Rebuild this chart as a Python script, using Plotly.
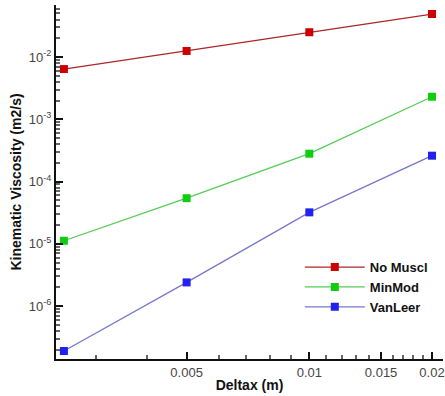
import plotly.graph_objects as go

deltax = [0.0025, 0.005, 0.01, 0.02]
no_muscl = [6.4e-3, 1.25e-2, 2.5e-2, 4.9e-2]
minmod = [1.12e-5, 5.4e-5, 2.8e-4, 2.3e-3]
vanleer = [1.9e-7, 2.4e-6, 3.2e-5, 2.6e-4]
names = ["No Muscl", "MinMod", "VanLeer"]
x_ticks = [0.005, 0.01, 0.015, 0.02]
x_ticktext = ["0.005", "0.01", "0.015", "0.02"]
y_ticks = [1e-6, 1e-5, 1e-4, 1e-3, 1e-2]
y_ticktext = ["10<sup>-6</sup>", "10<sup>-5</sup>", "10<sup>-4</sup>", "10<sup>-3</sup>", "10<sup>-2</sup>"]

series = [no_muscl, minmod, vanleer]
line_colors = ["#a82828", "#55cc55", "#7777cc"]
marker_colors = ["#cc0000", "#11cc11", "#2222ee"]

fig = go.Figure()
for n, ys, lc, mc in zip(names, series, line_colors, marker_colors):
    fig.add_trace(go.Scatter(
        x=deltax, y=ys, name=n, mode="lines+markers",
        line=dict(color=lc, width=1.3),
        marker=dict(symbol="square", size=8, color=mc),
    ))

x_minor = [0.003, 0.004, 0.006, 0.007, 0.008, 0.009, 0.011, 0.012, 0.013, 0.014,
           0.016, 0.017, 0.018, 0.019]
y_minor = [m * 10 ** e for e in range(-7, 0) for m in range(2, 10)]

fig.update_layout(
    width=445, height=396,
    margin=dict(l=56, r=0, t=5, b=37),
    paper_bgcolor="white", plot_bgcolor="white",
    font=dict(family="Liberation Sans, Arial", size=13, color="#444"),
    showlegend=True,
    legend=dict(x=0.63, y=0.302, xanchor="left", yanchor="top",
                bgcolor="rgba(0,0,0,0)", itemwidth=60,
                font=dict(size=13, color="#111", weight="bold"),
                tracegroupgap=0),
    xaxis=dict(
        type="log", range=[-2.6215, -1.672],
        tickvals=x_ticks, ticktext=x_ticktext, ticklabeloverflow="allow",
        ticks="inside", ticklen=7, tickwidth=1.5, tickcolor="#111",
        showline=True, linecolor="#111", linewidth=2,
        showgrid=False, zeroline=False,
        minor=dict(tickvals=x_minor, ticks="inside", ticklen=4, tickcolor="#666", showgrid=False),
        title=dict(text="<b>Deltax (m)</b>", font=dict(size=14, color="#111"), standoff=2),
    ),
    yaxis=dict(
        type="log", range=[-6.85, -1.165],
        tickvals=y_ticks, ticktext=y_ticktext,
        ticks="inside", ticklen=7, tickwidth=1.5, tickcolor="#111",
        showline=True, linecolor="#111", linewidth=2,
        showgrid=False, zeroline=False,
        minor=dict(tickvals=y_minor, ticks="inside", ticklen=4, tickcolor="#666", showgrid=False),
        title=dict(text="<b>Kinematic Viscosity (m2/s)</b>", font=dict(size=14, color="#111"), standoff=4),
    ),
)

fig.write_html("out.html")
